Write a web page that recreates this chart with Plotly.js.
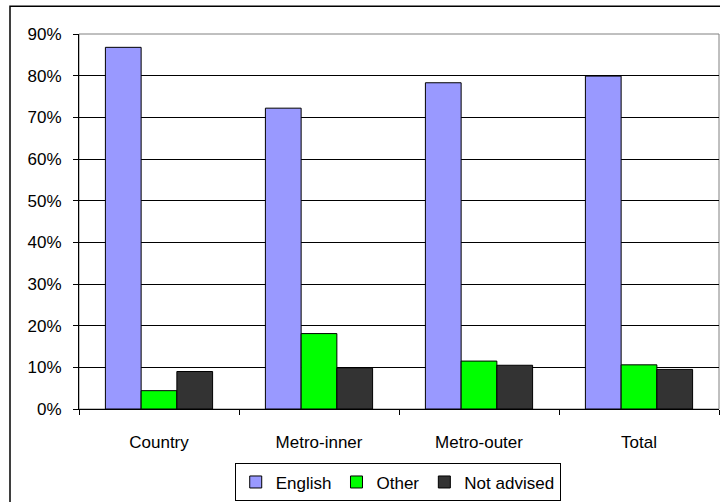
<!DOCTYPE html>
<html>
<head>
<meta charset="utf-8">
<script src="https://cdn.plot.ly/plotly-3.0.1.min.js"></script>
<style>html,body{margin:0;padding:0;background:#fff;}#chart{width:720px;height:502px;}</style>
</head>
<body>
<div id="chart"></div>
<script>
const categories = ["Country", "Metro-inner", "Metro-outer", "Total"];
const english = [86.8, 72.2, 78.3, 79.9];
const other = [4.4, 18.1, 11.5, 10.6];
const notAdvised = [9.0, 9.8, 10.5, 9.5];
const seriesNames = ["English", "Other", "Not advised"];
const yTickVals = [0, 10, 20, 30, 40, 50, 60, 70, 80, 90];
const yTickText = yTickVals.map(v => v + "%");

const colors = ["#9999FF", "#00FF00", "#333333"];
const font = {family: "Liberation Sans, Arial, sans-serif", size: 17, color: "#000"};

const traces = [english, other, notAdvised].map((vals, i) => ({
  type: "bar",
  name: seriesNames[i],
  x: categories,
  y: vals,
  marker: {color: colors[i], line: {color: "#000", width: 1}},
  hoverinfo: "skip"
}));

const W = 640, H = 379, L = 79, T = 34;
const px = x => (x - L) / W;
const py = y => (T + H - y) / H;

const layout = {
  width: 720, height: 502,
  margin: {l: 79, r: 1, t: 34, b: 89, pad: 0},
  paper_bgcolor: "#fff", plot_bgcolor: "#fff",
  font: font,
  barmode: "group",
  bargap: 0.33,
  bargroupgap: 0,
  showlegend: true,
  legend: {
    orientation: "h",
    x: 0.498, xanchor: "center",
    y: py(468), yanchor: "top",
    bordercolor: "#000", borderwidth: 1,
    font: font,
    itemwidth: 30,
    traceorder: "normal"
  },
  xaxis: {
    type: "category",
    showline: true, linecolor: "#000", linewidth: 1,
    ticks: "outside", ticklen: 5, tickcolor: "#000",
    tickson: "boundaries",
    showgrid: false,
    ticklabelstandoff: 18,
    tickfont: font,
    fixedrange: true
  },
  yaxis: {
    range: [0, 90],
    tickvals: yTickVals,
    ticktext: yTickText,
    showline: true, linecolor: "#000", linewidth: 1,
    ticks: "outside", ticklen: 5, tickcolor: "#000",
    showgrid: true, gridcolor: "#000", gridwidth: 1,
    zeroline: false,
    ticklabelstandoff: 8,
    tickfont: font,
    fixedrange: true
  },
  shapes: [
    {type: "rect", xref: "paper", yref: "paper", x0: 0, x1: 1, y0: 0, y1: 1,
     line: {color: "#808080", width: 1}, layer: "below"},
    {type: "path", xref: "paper", yref: "paper",
     path: `M ${px(10)} ${py(510)} L ${px(10)} ${py(6)} L ${px(730)} ${py(6)}`,
     line: {color: "#000", width: 1.5}}
  ]
};

Plotly.newPlot("chart", traces, layout, {displayModeBar: false, staticPlot: true});
</script>
</body>
</html>
